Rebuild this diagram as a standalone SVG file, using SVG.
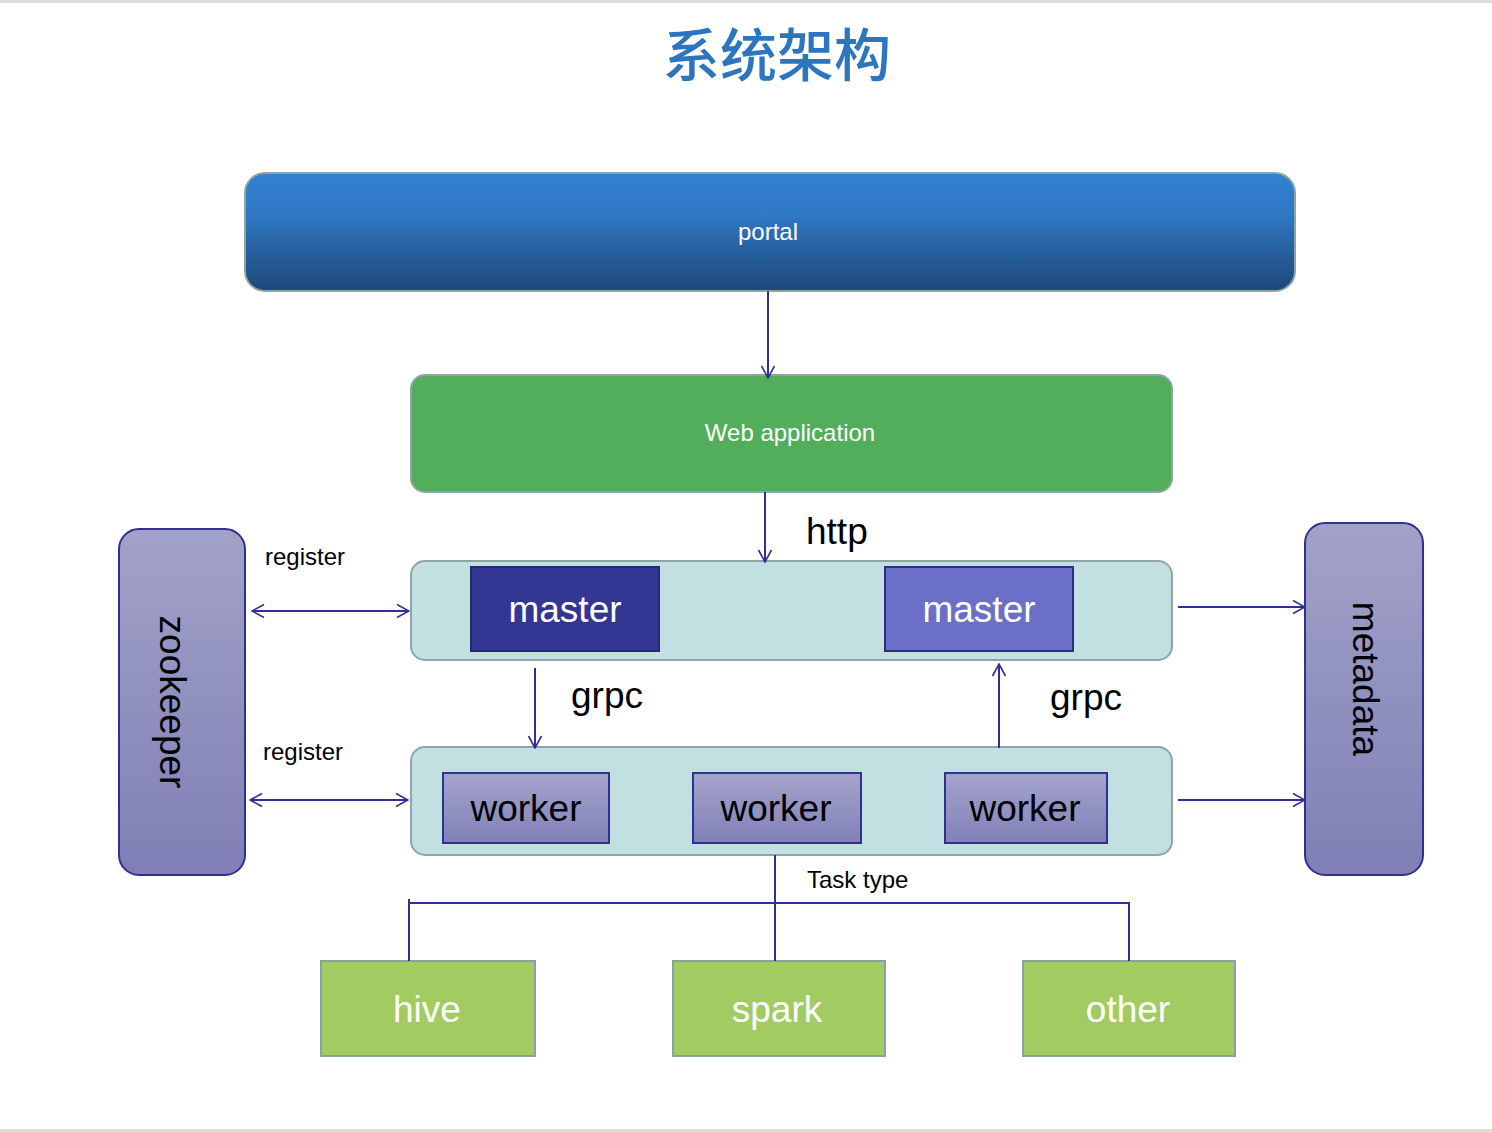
<svg xmlns="http://www.w3.org/2000/svg" width="1492" height="1132" viewBox="0 0 1492 1132">
<defs>
<linearGradient id="gPortal" x1="0" y1="0" x2="0" y2="1">
<stop offset="0" stop-color="#3281d2"/><stop offset="0.35" stop-color="#2f78c4"/><stop offset="1" stop-color="#1d4777"/>
</linearGradient>
<linearGradient id="gSide" x1="0" y1="0" x2="0" y2="1">
<stop offset="0" stop-color="#a2a2c8"/><stop offset="1" stop-color="#7f7fb6"/>
</linearGradient>
<linearGradient id="gWorker" x1="0" y1="0" x2="0" y2="1">
<stop offset="0" stop-color="#a5a5cc"/><stop offset="1" stop-color="#8080b8"/>
</linearGradient>
<marker id="ah" viewBox="0 0 14 16" refX="13" refY="8" markerWidth="14" markerHeight="16" markerUnits="userSpaceOnUse" orient="auto-start-reverse">
<path d="M1,1.5 L13,8 L1,14.5" fill="none" stroke="#2e3192" stroke-width="1.6"/>
</marker>
</defs>
<style>
.lbl{font-family:"Liberation Sans",Arial,sans-serif;}
.w{fill:#ffffff;}
.k{fill:#000000;}
.big{font-size:37px;}
.sm{font-size:24px;}
.con{stroke:#2e3192;stroke-width:2;fill:none;}
.cont{fill:#c2dfe2;stroke:#8fa5a5;stroke-width:2;}
.task{fill:#a2cc62;stroke:#8a9fa8;stroke-width:2;}
</style>
<rect x="0" y="0" width="1492" height="1132" fill="#ffffff"/>
<rect x="0" y="0" width="1492" height="3" fill="#dcdcdc"/>
<rect x="0" y="1129" width="1492" height="3" fill="#dcdcdc"/>

<g id="title">
<text x="777" y="76" text-anchor="middle" font-family="'Noto Sans CJK SC',sans-serif" font-size="57" font-weight="500" fill="#2e75c0">系统架构</text>
</g>

<g id="portal">
<rect x="245" y="173" width="1050" height="118" rx="20" fill="url(#gPortal)" stroke="#8fa3a3" stroke-width="2"/>
<text class="lbl w sm" x="768" y="231" text-anchor="middle" dominant-baseline="central">portal</text>
</g>

<g id="webapp">
<rect x="411" y="375" width="761" height="117" rx="14" fill="#52ae5a" stroke="#8fa5a5" stroke-width="2"/>
<text class="lbl w sm" x="790" y="432" text-anchor="middle" dominant-baseline="central">Web application</text>
</g>

<g id="master-group">
<rect class="cont" x="411" y="561" width="761" height="99" rx="14"/>
</g>
<g id="master1">
<rect x="471" y="567" width="188" height="84" fill="#333692" stroke="#222a70" stroke-width="2"/>
<text class="lbl w big" x="565" y="609" text-anchor="middle" dominant-baseline="central">master</text>
</g>
<g id="master2">
<rect x="885" y="567" width="188" height="84" fill="#6b6fc8" stroke="#2a2f80" stroke-width="2"/>
<text class="lbl w big" x="979" y="609" text-anchor="middle" dominant-baseline="central">master</text>
</g>

<g id="worker-group">
<rect class="cont" x="411" y="747" width="761" height="108" rx="14"/>
</g>
<g id="worker1">
<rect x="443" y="773" width="166" height="70" fill="url(#gWorker)" stroke="#2e3192" stroke-width="2"/>
<text class="lbl k big" x="526" y="808" text-anchor="middle" dominant-baseline="central">worker</text>
</g>
<g id="worker2">
<rect x="693" y="773" width="168" height="70" fill="url(#gWorker)" stroke="#2e3192" stroke-width="2"/>
<text class="lbl k big" x="776" y="808" text-anchor="middle" dominant-baseline="central">worker</text>
</g>
<g id="worker3">
<rect x="945" y="773" width="162" height="70" fill="url(#gWorker)" stroke="#2e3192" stroke-width="2"/>
<text class="lbl k big" x="1025" y="808" text-anchor="middle" dominant-baseline="central">worker</text>
</g>

<g id="zookeeper">
<rect x="119" y="529" width="126" height="346" rx="20" fill="url(#gSide)" stroke="#2e3192" stroke-width="2"/>
<text class="lbl k big" transform="translate(172,702) rotate(90)" text-anchor="middle" dominant-baseline="central">zookeeper</text>
</g>

<g id="metadata">
<rect x="1305" y="523" width="118" height="352" rx="20" fill="url(#gSide)" stroke="#2e3192" stroke-width="2"/>
<text class="lbl k big" transform="translate(1365,679) rotate(90)" text-anchor="middle" dominant-baseline="central">metadata</text>
</g>

<g id="hive">
<rect class="task" x="321" y="961" width="214" height="95"/>
<text class="lbl w big" x="427" y="1009" text-anchor="middle" dominant-baseline="central">hive</text>
</g>
<g id="spark">
<rect class="task" x="673" y="961" width="212" height="95"/>
<text class="lbl w big" x="777" y="1009" text-anchor="middle" dominant-baseline="central">spark</text>
</g>
<g id="other">
<rect class="task" x="1023" y="961" width="212" height="95"/>
<text class="lbl w big" x="1128" y="1009" text-anchor="middle" dominant-baseline="central">other</text>
</g>

<g id="connectors">
<line class="con" x1="768" y1="291" x2="768" y2="378" marker-end="url(#ah)"/>
<line class="con" x1="765" y1="492" x2="765" y2="562" marker-end="url(#ah)"/>
<line class="con" x1="252" y1="611" x2="409" y2="611" marker-start="url(#ah)" marker-end="url(#ah)"/>
<line class="con" x1="250" y1="800" x2="408" y2="800" marker-start="url(#ah)" marker-end="url(#ah)"/>
<line class="con" x1="535" y1="668" x2="535" y2="748" marker-end="url(#ah)"/>
<line class="con" x1="999" y1="748" x2="999" y2="664" marker-end="url(#ah)"/>
<line class="con" x1="1178" y1="607" x2="1305" y2="607" marker-end="url(#ah)"/>
<line class="con" x1="1178" y1="800" x2="1305" y2="800" marker-end="url(#ah)"/>
<line class="con" x1="775" y1="855" x2="775" y2="961"/>
<polyline class="con" points="409,899 409,961"/>
<polyline class="con" points="409,903 1129,903 1129,961"/>
<text class="lbl k big" x="806" y="544">http</text>
<text class="lbl k big" x="571" y="708">grpc</text>
<text class="lbl k big" x="1050" y="710">grpc</text>
<text class="lbl k sm" x="265" y="565">register</text>
<text class="lbl k sm" x="263" y="760">register</text>
<text class="lbl k sm" x="807" y="888">Task type</text>
</g>
</svg>
